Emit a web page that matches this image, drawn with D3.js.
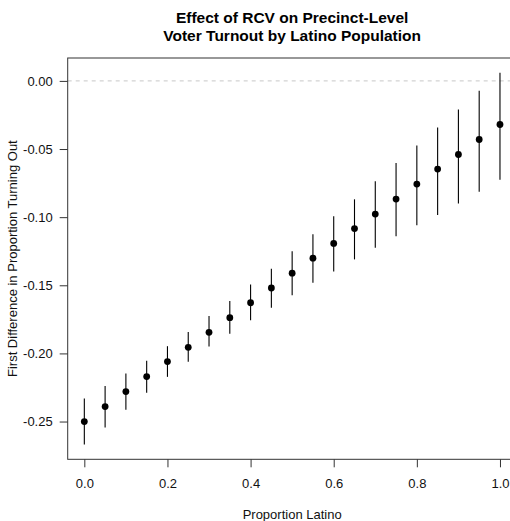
<!DOCTYPE html>
<html>
<head>
<meta charset="utf-8">
<script src="https://cdn.jsdelivr.net/npm/d3@7"></script>
<style>
  body { margin: 0; background: #fff; }
  svg { display: block; font-family: "Liberation Sans", Arial, sans-serif; }
</style>
</head>
<body>
<svg id="chart"></svg>
<script>
// proportion latino, point estimate, lower and upper bound of the interval
var latino = [0, 0.05, 0.1, 0.15, 0.2, 0.25, 0.3, 0.35, 0.4, 0.45, 0.5,
              0.55, 0.6, 0.65, 0.7, 0.75, 0.8, 0.85, 0.9, 0.95, 1.0];
var est = [-0.250, -0.239, -0.228, -0.217, -0.206, -0.1955, -0.1845, -0.1738, -0.1628, -0.152, -0.1411,
           -0.1301, -0.1193, -0.1084, -0.0977, -0.0867, -0.0757, -0.0647, -0.054, -0.043, -0.032];
var lower = [-0.2668, -0.2543, -0.2414, -0.2289, -0.2172, -0.2062, -0.195, -0.1855, -0.1757, -0.1665, -0.1574,
             -0.1482, -0.1398, -0.131, -0.1225, -0.114, -0.1059, -0.0984, -0.09, -0.0813, -0.0725];
var upper = [-0.233, -0.224, -0.2148, -0.2053, -0.1947, -0.1843, -0.1725, -0.1616, -0.1494, -0.1379, -0.125,
             -0.1125, -0.0993, -0.0869, -0.0737, -0.0603, -0.0474, -0.0342, -0.021, -0.0073, 0.0059];
var xTicks = [0, 0.2, 0.4, 0.6, 0.8, 1.0];
var yTicks = [0, -0.05, -0.10, -0.15, -0.20, -0.25];

var width = 510;
var height = 521;
var box = {left: 67.7, right: 516.6, top: 58, bottom: 459.3};

var svg = d3.select('#chart')
    .attr('width', width)
    .attr('height', height);

// R style limits: data range stretched by 4% each side
function rlim(lo, hi) {
    var d = (hi - lo) * 0.04;
    return [lo - d, hi + d];
}
var xl = rlim(0, 1);
var yl = rlim(d3.min(lower), d3.max(upper));

var xScale = d3.scaleLinear().domain(xl).range([box.left, box.right]);
var yScale = d3.scaleLinear().domain(yl).range([box.bottom, box.top]);

// reference line at zero
svg.append('line')
    .attr('x1', box.left).attr('x2', box.right)
    .attr('y1', yScale(0)).attr('y2', yScale(0))
    .attr('stroke', '#c8c8c8')
    .attr('stroke-dasharray', '4,4');

// interval bars
svg.selectAll('.bar')
    .data(latino)
    .enter()
    .append('line')
    .attr('x1', d => xScale(d)).attr('x2', d => xScale(d))
    .attr('y1', (d, i) => yScale(lower[i]))
    .attr('y2', (d, i) => yScale(upper[i]))
    .attr('stroke', '#000')
    .attr('stroke-width', 1.1);

svg.selectAll('circle')
    .data(latino)
    .enter()
    .append('circle')
    .attr('cx', d => xScale(d))
    .attr('cy', (d, i) => yScale(est[i]))
    .attr('r', 3.4)
    .attr('fill', '#000');

// axes
var xAxis = d3.axisBottom(xScale)
    .tickValues(xTicks)
    .tickFormat(d3.format('.1f'))
    .tickSize(8)
    .tickPadding(11);

var yAxis = d3.axisLeft(yScale)
    .tickValues(yTicks)
    .tickFormat(d3.format('.2f'))
    .tickSize(8)
    .tickPadding(7);

var gx = svg.append('g')
    .attr('transform', 'translate(0,' + box.bottom + ')')
    .call(xAxis);
var gy = svg.append('g')
    .attr('transform', 'translate(' + box.left + ',0)')
    .call(yAxis);

[gx, gy].forEach(g => {
    g.select('.domain').remove();
    g.selectAll('line').attr('stroke', '#333');
    g.selectAll('text')
        .attr('fill', '#111')
        .style('font-size', '13px')
        .style('font-family', '"Liberation Sans", Arial, sans-serif');
});
gy.selectAll('text').text(d => d3.format('.2f')(d).replace('−', '-'));

svg.append('rect')
    .attr('x', box.left).attr('y', box.top)
    .attr('width', box.right - box.left)
    .attr('height', box.bottom - box.top)
    .attr('fill', 'none')
    .attr('stroke', '#333')
    .attr('stroke-width', 1);

// titles
var cx = (box.left + box.right) / 2;
svg.append('text')
    .attr('x', cx).attr('y', 22.7)
    .attr('text-anchor', 'middle')
    .style('font-size', '15.5px')
    .style('font-weight', 'bold')
    .text('Effect of RCV on Precinct-Level');
svg.append('text')
    .attr('x', cx).attr('y', 40.8)
    .attr('text-anchor', 'middle')
    .style('font-size', '15.5px')
    .style('font-weight', 'bold')
    .text('Voter Turnout by Latino Population');

svg.append('text')
    .attr('x', cx).attr('y', 518.5)
    .attr('text-anchor', 'middle')
    .style('font-size', '13px')
    .attr('fill', '#111')
    .text('Proportion Latino');

svg.append('text')
    .attr('transform', 'translate(16.5,' + ((box.top + box.bottom) / 2) + ') rotate(-90)')
    .attr('text-anchor', 'middle')
    .style('font-size', '13px')
    .attr('fill', '#111')
    .text('First Difference in Proportion Turning Out');
</script>
</body>
</html>
